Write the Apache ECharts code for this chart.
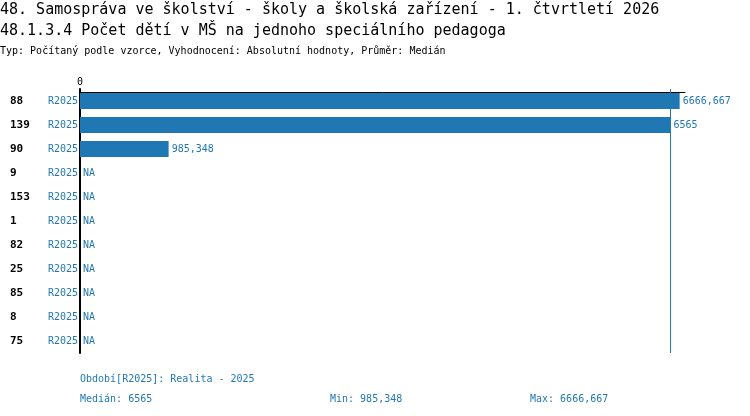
<!DOCTYPE html>
<html>
<head>
<meta charset="utf-8" />
<title></title>
<style>body{margin:0;background:#fff}</style>
</head>
<body>
<div id="main" style="width:750px;height:416px"></div>
<script src="https://cdn.jsdelivr.net/npm/echarts@6/dist/echarts.min.js"></script>
<script type="text/javascript">
    // rows, top to bottom
    var units = ['88', '139', '90', '9', '153', '1', '82', '25', '85', '8', '75'];
    var periods = ['R2025', 'R2025', 'R2025', 'R2025', 'R2025', 'R2025', 'R2025', 'R2025', 'R2025', 'R2025', 'R2025'];
    // null = NA
    var values = [6666.667, 6565, 985.348, null, null, null, null, null, null, null, null];
    var xTicks = ['0'];

    var blue = '#1f77b4';
    var mono = 'DejaVu Sans Mono';

    function fmt(v) {
        return String(v).replace('.', ',');
    }

    var known = values.filter(function (v) { return v != null; }).sort(function (a, b) { return a - b; });
    var minV = known[0];
    var maxV = known[known.length - 1];
    var mid = Math.floor(known.length / 2);
    var median = known.length % 2 ? known[mid] : (known[mid - 1] + known[mid]) / 2;

    var myChart = echarts.init(document.getElementById('main'));
    var option = {
        backgroundColor: 'white',
        animation: false,
        textStyle: { fontFamily: mono },
        grid: { left: 80, right: 65, top: 89, bottom: 63 },
        xAxis: {
            type: 'value',
            position: 'top',
            offset: -3,
            min: 0,
            max: 6726,
            splitLine: { show: false },
            axisTick: { show: false },
            axisLine: { show: true, lineStyle: { color: '#000', width: 1 } },
            axisLabel: {
                margin: 5,
                fontSize: 10,
                fontFamily: mono,
                color: '#000',
                formatter: function (v) { return xTicks.indexOf(String(v)) >= 0 ? String(v) : ''; }
            }
        },
        yAxis: {
            type: 'category',
            inverse: true,
            data: units.map(function (u, i) { return u + '|' + periods[i]; }),
            axisTick: { show: false },
            axisLine: { show: true, lineStyle: { color: '#000', width: 2 } },
            axisLabel: {
                margin: 2,
                formatter: function (v) {
                    var p = v.split('|');
                    return '{a|' + p[0] + '}{b|' + p[1] + '}';
                },
                rich: {
                    a: { width: 38, align: 'left', fontSize: 11, fontWeight: 'bold', color: '#000', fontFamily: mono },
                    b: { width: 30, align: 'right', fontSize: 10, color: blue, fontFamily: mono }
                }
            }
        },
        series: [{
            type: 'bar',
            barWidth: 16,
            itemStyle: { color: blue },
            data: values.map(function (v) { return { value: v == null ? 0 : v, na: v == null }; }),
            label: {
                show: true,
                position: 'right',
                distance: 3,
                color: blue,
                fontSize: 10,
                fontFamily: mono,
                formatter: function (p) { return p.data.na ? 'NA' : fmt(p.data.value); }
            },
            markLine: {
                silent: true,
                symbol: 'none',
                label: { show: false },
                emphasis: { disabled: true },
                lineStyle: { color: blue, width: 1, type: 'solid', opacity: 1 },
                data: [{ xAxis: median }]
            }
        }],
        graphic: [
            { type: 'text', left: 0, top: 3, style: { text: '48. Samospráva ve školství - školy a školská zařízení - 1. čtvrtletí 2026', font: '15px ' + mono, fill: '#000' } },
            { type: 'text', left: 0, top: 24, style: { text: '48.1.3.4 Počet dětí v MŠ na jednoho speciálního pedagoga', font: '15px ' + mono, fill: '#000' } },
            { type: 'text', left: 0, top: 46, style: { text: 'Typ: Počítaný podle vzorce, Vyhodnocení: Absolutní hodnoty, Průměr: Medián', font: '10px ' + mono, fill: '#000' } },
            { type: 'text', left: 80, top: 374, style: { text: 'Období[R2025]: Realita - 2025', font: '10px ' + mono, fill: blue } },
            { type: 'text', left: 80, top: 394, style: { text: 'Medián: ' + fmt(median), font: '10px ' + mono, fill: blue } },
            { type: 'text', left: 330, top: 394, style: { text: 'Min: ' + fmt(minV), font: '10px ' + mono, fill: blue } },
            { type: 'text', left: 530, top: 394, style: { text: 'Max: ' + fmt(maxV), font: '10px ' + mono, fill: blue } }
        ]
    };
    myChart.setOption(option);
</script>
</body>
</html>
